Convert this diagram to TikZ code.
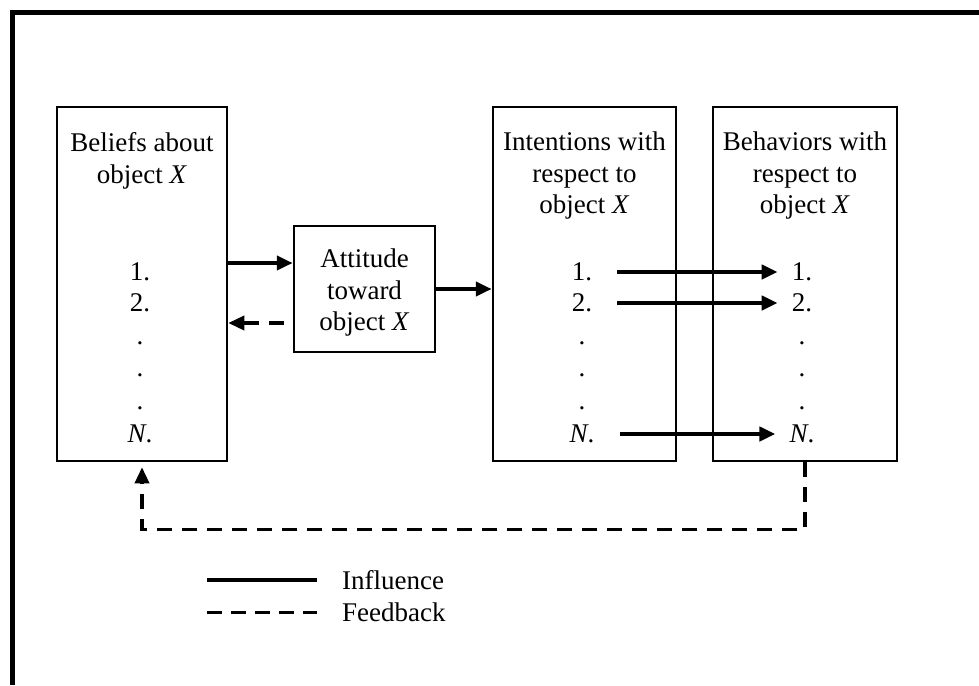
\documentclass[tikz,border=0pt]{standalone}
\usepackage{fontspec}
\setmainfont{Liberation Serif}
\usetikzlibrary{arrows.meta,positioning}

\begin{document}
\begin{tikzpicture}[x=1pt,y=-1pt,
    font=\fontsize{27}{31.5}\selectfont,
    box/.style={draw,line width=2.5pt,inner sep=0pt},
    title/.style={align=center,inner sep=0pt},
    item/.style={inner sep=0pt},
    infl/.style={line width=4pt,-{Triangle[length=16pt,width=14pt]}},
    feed/.style={line width=3.5pt,dash pattern=on 15pt off 10pt,-{Triangle[length=16pt,width=14pt]}}]
\useasboundingbox (0,0) rectangle (979,685);
% frame
\draw[line width=5pt] (979,13) -- (12,13) -- (12,685);
% boxes
\node[box,minimum width=170pt,minimum height=354pt] (bel) at (142,284) {};
\node[box,minimum width=141pt,minimum height=126pt] (att) at (364.5,289) {};
\node[box,minimum width=183pt,minimum height=354pt] (int) at (584.5,284) {};
\node[box,minimum width=184pt,minimum height=354pt] (beh) at (805,284) {};
\node[title] (belt) at (142,161) {Beliefs about\\object \textit{X}};
\node[title] (attt) at (364.5,293) {Attitude\\toward\\object \textit{X}};
\node[title] (intt) at (584.5,176) {Intentions with\\respect to\\object \textit{X}};
\node[title] (beht) at (805,176) {Behaviors with\\respect to\\object \textit{X}};
% lists
\foreach \nm/\txt/\y in {1/1./272,2/2./303,3/\textit{N}./434} {
  \node[item] (b\nm) at (140,\y) {\txt};
  \node[item] (i\nm) at (582,\y) {\txt};
  \node[item] (o\nm) at (802,\y) {\txt};
  \draw[infl] ([xshift=25pt]i\nm.east) -- ([xshift=-14pt]o\nm.west);
}
\foreach \y in {343,375,408} {
  \node[item] (bd\y) at (140,\y) {.};
  \node[item] (id\y) at (582,\y) {.};
  \node[item] (od\y) at (802,\y) {.};
}
% arrows
\draw[infl] ([yshift=21pt]bel.east) -- ([yshift=26pt]att.west);
\draw[feed] ([xshift=-9pt,yshift=-34pt]att.west) -- ([yshift=-39pt]bel.east);
\draw[infl] (att.east) -- (int.west |- att.east);
\draw[feed,shorten >=5pt] (beh.south) -- ++(0,67) -| (bel.south);
% legend
\node[item,anchor=west] (leginf) at (342,580) {Influence};
\node[item,anchor=west] (legfb) at (342,612) {Feedback};
\coordinate (li) at (207,580);
\coordinate (lf) at (207,612);
\draw[line width=3.5pt] (li) -- ([xshift=-25pt]leginf.west);
\draw[line width=3pt,dash pattern=on 15pt off 9pt] (lf) -- ([xshift=-25pt]legfb.west);
\end{tikzpicture}
\end{document}
